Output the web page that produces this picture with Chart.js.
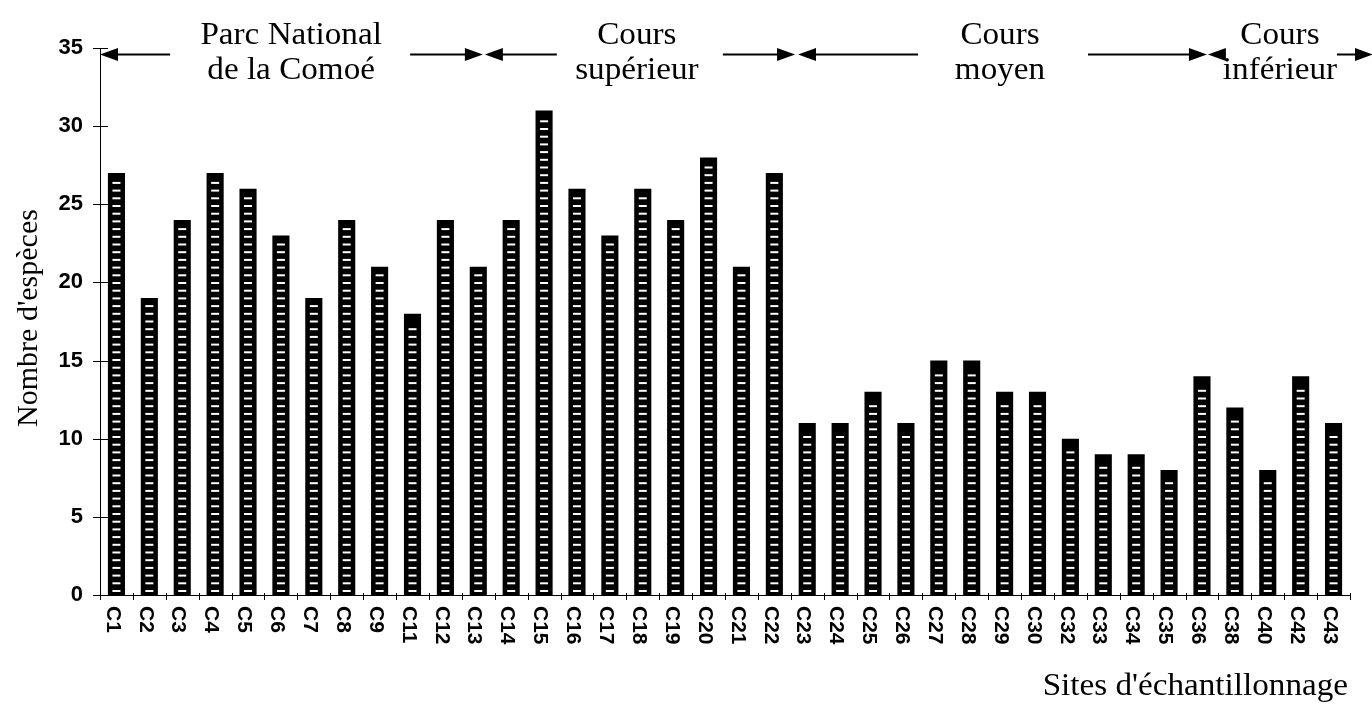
<!DOCTYPE html>
<html>
<head>
<meta charset="utf-8">
<script src="https://cdn.jsdelivr.net/npm/chart.js@4.4.1/dist/chart.umd.min.js"></script>
<style>
  html, body { margin: 0; padding: 0; background: #fff; }
  canvas { display: block; }
</style>
</head>
<body>
<canvas id="chart" width="1372" height="709"></canvas>
<script>
// sampling sites and species counts
const sites = ["C1","C2","C3","C4","C5","C6","C7","C8","C9","C11","C12","C13","C14","C15","C16","C17","C18","C19","C20","C21","C22","C23","C24","C25","C26","C27","C28","C29","C30","C32","C33","C34","C35","C36","C38","C40","C42","C43"];
const species = [27,19,24,27,26,23,19,24,21,18,24,21,24,31,26,23,26,24,28,21,27,11,11,13,11,15,15,13,13,10,9,9,8,14,12,8,14,11];
const yTicks = [0,5,10,15,20,25,30,35];

// river sections (positions in category units)
const sectionNames = [["Parc National","de la Comoé"],["Cours","supérieur"],["Cours","moyen"],["Cours","inférieur"]];
const sectionFrom = [-0.5, 11.2, 20.72, 33.18];
const sectionTo = [11.14, 20.63, 33.15, 38.2];
const sectionMid = [5.31, 15.82, 26.86, 35.37];
const sectionGaps = [[121,119],[80,86],[82,88],[55,57]];

const SERIF = '"Liberation Serif", "Times New Roman", serif';
const SANS = '"Liberation Sans", Arial, sans-serif';

function serifText(ctx, txt, x, y, align) {
  ctx.save();
  ctx.font = "31px " + SERIF;
  ctx.textAlign = align;
  ctx.textBaseline = "alphabetic";
  ctx.translate(x, y);
  ctx.scale(1.07, 1);
  ctx.fillText(txt, 0, 0);
  ctx.restore();
}

function arrowHead(ctx, tipX, y, dir) {
  // dir = -1 points left, 1 points right
  ctx.beginPath();
  ctx.moveTo(tipX, y);
  ctx.lineTo(tipX - dir * 18, y - 6.5);
  ctx.lineTo(tipX - dir * 18, y + 6.5);
  ctx.closePath();
  ctx.fill();
}

// 🖌️ hatch + axes decoration
const decor = {
  id: "decor",
  afterDatasetsDraw(chart) {
    const ctx = chart.ctx;
    ctx.save();
    ctx.fillStyle = "#fff";
    chart.getDatasetMeta(0).data.forEach(bar => {
      const p = bar.getProps(["x", "y", "base"], true);
      for (let yy = p.base - 4; yy >= p.y + 8; yy -= 7.7) {
        ctx.fillRect(p.x - 4, yy - 1, 8, 2);
      }
    });
    ctx.restore();
  },
  afterDraw(chart) {
    const ctx = chart.ctx;
    const xs = chart.scales.x, ys = chart.scales.y;
    const area = chart.chartArea;
    ctx.save();
    ctx.strokeStyle = "#000";
    ctx.fillStyle = "#000";
    ctx.lineWidth = 1;

    // y tick marks crossing the axis
    yTicks.forEach(v => {
      const py = Math.round(ys.getPixelForValue(v)) + 0.5;
      ctx.beginPath();
      ctx.moveTo(area.left - 7, py);
      ctx.lineTo(area.left + 8, py);
      ctx.stroke();
    });

    // x tick marks between categories
    for (let i = 0; i <= sites.length; i++) {
      const px = Math.round(xs.getPixelForValue(i - 0.5)) + 0.5;
      ctx.beginPath();
      ctx.moveTo(px, area.bottom - 2);
      ctx.lineTo(px, area.bottom + 5);
      ctx.stroke();
    }

    // rotated x labels (top to bottom)
    ctx.font = "bold 21px " + SANS;
    ctx.textAlign = "left";
    ctx.textBaseline = "middle";
    sites.forEach((s, i) => {
      const px = xs.getPixelForValue(i) - 4;
      ctx.save();
      ctx.translate(px, area.bottom + 11);
      ctx.rotate(Math.PI / 2);
      ctx.fillText(s, 0, 0);
      ctx.restore();
    });

    // axis titles
    ctx.save();
    ctx.font = "30px " + SERIF;
    ctx.textAlign = "center";
    ctx.textBaseline = "middle";
    ctx.translate(29, 318);
    ctx.rotate(-Math.PI / 2);
    ctx.fillText("Nombre d'espèces", 0, 0);
    ctx.restore();
    serifText(ctx, "Sites d'échantillonnage", 1348, 695, "right");

    // river sections with arrows
    const ay = 54.5;
    ctx.lineWidth = 2;
    sectionNames.forEach((lines, k) => {
      const x0 = xs.getPixelForValue(sectionFrom[k]);
      const x1 = xs.getPixelForValue(sectionTo[k]);
      const xm = xs.getPixelForValue(sectionMid[k]);
      const g = sectionGaps[k];
      ctx.beginPath();
      ctx.moveTo(x0 + 10, ay);
      ctx.lineTo(xm - g[0], ay);
      ctx.moveTo(xm + g[1], ay);
      ctx.lineTo(x1 - 10, ay);
      ctx.stroke();
      arrowHead(ctx, x0, ay, -1);
      arrowHead(ctx, x1, ay, 1);
      serifText(ctx, lines[0], xm, 44, "center");
      serifText(ctx, lines[1], xm, 79, "center");
    });
    ctx.restore();
  }
};

new Chart(document.getElementById("chart"), {
  type: "bar",
  data: {
    labels: sites,
    datasets: [{
      data: species,
      backgroundColor: "#000",
      borderWidth: 0,
      barPercentage: 0.52,
      categoryPercentage: 1
    }]
  },
  options: {
    responsive: false,
    animation: false,
    devicePixelRatio: 1,
    layout: { padding: { top: 48, right: 22, left: 0, bottom: 0 } },
    plugins: {
      legend: { display: false },
      tooltip: { enabled: false }
    },
    scales: {
      x: {
        grid: { display: false },
        border: { display: true, color: "#000", width: 1 },
        ticks: { display: false },
        afterFit(scale) { scale.height = 114; }
      },
      y: {
        min: 0,
        max: 35,
        grid: { display: false },
        border: { display: true, color: "#000", width: 1 },
        ticks: {
          stepSize: 5,
          padding: 9,
          color: "#000",
          font: { family: SANS, size: 22, weight: "bold" }
        },
        afterFit(scale) { scale.width = 100; }
      }
    }
  },
  plugins: [decor]
});
</script>
</body>
</html>
